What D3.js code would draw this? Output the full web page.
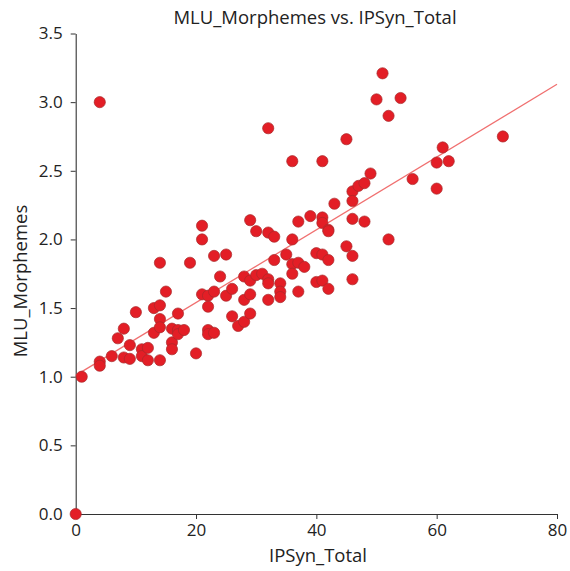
<!DOCTYPE html>
<html>
<head>
<meta charset="utf-8">
<script src="https://cdn.jsdelivr.net/npm/d3@7"></script>
<style>
  html, body { margin: 0; padding: 0; background: #fff; }
  svg { display: block; }
  text { font-family: "Open Sans", "Noto Sans", sans-serif; fill: #222; }
</style>
</head>
<body>
<svg id="chart" width="570" height="571"></svg>
<script>
// ---- Data ----
const ipsynTotal = [
  0, 1, 4, 4, 4, 6, 7, 8, 8, 9, 9, 10, 11, 11, 12, 12, 13, 13,
  14, 14, 14, 14, 14, 15, 16, 16, 16, 17, 17, 17, 18, 19, 20,
  21, 21, 21, 22, 22, 22, 22, 23, 23, 23, 24, 25, 25, 26, 26, 27,
  28, 28, 28, 29, 29, 29, 29, 30, 30, 31, 32, 32, 32, 32, 32,
  33, 33, 34, 34, 34, 35, 36, 36, 36, 36, 37, 37, 37, 38, 39,
  40, 40, 41, 41, 41, 41, 41, 42, 42, 42, 42, 43, 45, 45,
  46, 46, 46, 46, 46, 47, 48, 48, 49, 50, 51, 52, 52, 54, 56,
  60, 60, 61, 62, 71
];
const mluMorphemes = [
  0.00, 1.00, 3.00, 1.11, 1.08, 1.15, 1.28, 1.35, 1.14, 1.23, 1.13, 1.47, 1.20, 1.15, 1.21, 1.12, 1.50, 1.32,
  1.83, 1.52, 1.42, 1.36, 1.12, 1.62, 1.35, 1.25, 1.20, 1.46, 1.34, 1.31, 1.34, 1.83, 1.17,
  2.10, 2.00, 1.60, 1.59, 1.51, 1.34, 1.31, 1.88, 1.62, 1.32, 1.73, 1.89, 1.59, 1.64, 1.44, 1.37,
  1.73, 1.56, 1.40, 2.14, 1.70, 1.60, 1.46, 2.06, 1.74, 1.75, 2.81, 2.05, 1.71, 1.68, 1.56,
  2.02, 1.85, 1.68, 1.62, 1.58, 1.89, 2.57, 2.00, 1.82, 1.75, 2.13, 1.83, 1.62, 1.80, 2.17,
  1.90, 1.69, 2.57, 2.16, 2.12, 1.89, 1.70, 2.07, 2.06, 1.85, 1.64, 2.26, 2.73, 1.95,
  2.35, 2.28, 2.15, 1.88, 1.71, 2.39, 2.41, 2.13, 2.48, 3.02, 3.21, 2.90, 2.00, 3.03, 2.44,
  2.56, 2.37, 2.67, 2.57, 2.75
];
// Fit line
const fitIntercept = 1.01;
const fitSlope = 0.0265;

const xTicks = [0, 20, 40, 60, 80];
const yTicks = [0.0, 0.5, 1.0, 1.5, 2.0, 2.5, 3.0, 3.5];
const titleText = "MLU_Morphemes vs. IPSyn_Total";
const xLabel = "IPSyn_Total";
const yLabel = "MLU_Morphemes";

// ---- Layout ----
const svg = d3.select("#chart");
const mLeft = 75.7, mRight = 557, mTop = 33.5, mBottom = 514;

const x = d3.scaleLinear().domain([0, 80]).range([mLeft, mRight]);
const y = d3.scaleLinear().domain([0, 3.5]).range([mBottom, mTop]);

const points = ipsynTotal.map((v, i) => ({ x: v, y: mluMorphemes[i] }));

// Axes
const xAxis = d3.axisBottom(x).tickValues(xTicks).tickFormat(d3.format("d")).tickSize(5).tickSizeOuter(0).tickPadding(5);
const yAxis = d3.axisLeft(y).tickValues(yTicks).tickFormat(d3.format(".1f")).tickSize(5).tickSizeOuter(0).tickPadding(8);

const gx = svg.append("g").attr("transform", `translate(0,${mBottom})`).call(xAxis);
const gy = svg.append("g").attr("transform", `translate(${mLeft},0)`).call(yAxis);

[gx, gy].forEach(g => {
  g.select(".domain").attr("stroke", "#333").attr("stroke-width", 1.1);
  g.selectAll(".tick line").attr("stroke", "#333").attr("stroke-width", 1);
  g.selectAll(".tick text").attr("font-family", "'Open Sans', sans-serif").attr("font-size", 17).attr("fill", "#222");
});
gx.selectAll(".tick").filter(d => d === 0).select("line").remove();

// Fit line
const fitLine = d3.line().x(d => x(d)).y(d => y(fitIntercept + fitSlope * d));
svg.append("path")
  .datum([0, 80])
  .attr("d", fitLine)
  .attr("fill", "none")
  .attr("stroke", "#f07070")
  .attr("stroke-width", 1.3);

// Points
svg.append("g").selectAll("circle")
  .data(points)
  .join("circle")
  .attr("cx", d => x(d.x))
  .attr("cy", d => y(d.y))
  .attr("r", 5.6)
  .attr("fill", "#e31e26")
  .attr("stroke", "#a8292b")
  .attr("stroke-width", 0.7);

// Title and labels
svg.append("text")
  .attr("x", 315)
  .attr("y", 24)
  .attr("text-anchor", "middle")
  .attr("font-size", 18.5)
  .text(titleText);

svg.append("text")
  .attr("x", 318)
  .attr("y", 562)
  .attr("text-anchor", "middle")
  .attr("font-size", 18.5)
  .text(xLabel);

svg.append("text")
  .attr("transform", `translate(27,281) rotate(-90)`)
  .attr("text-anchor", "middle")
  .attr("font-size", 18.5)
  .text(yLabel);
</script>
</body>
</html>
